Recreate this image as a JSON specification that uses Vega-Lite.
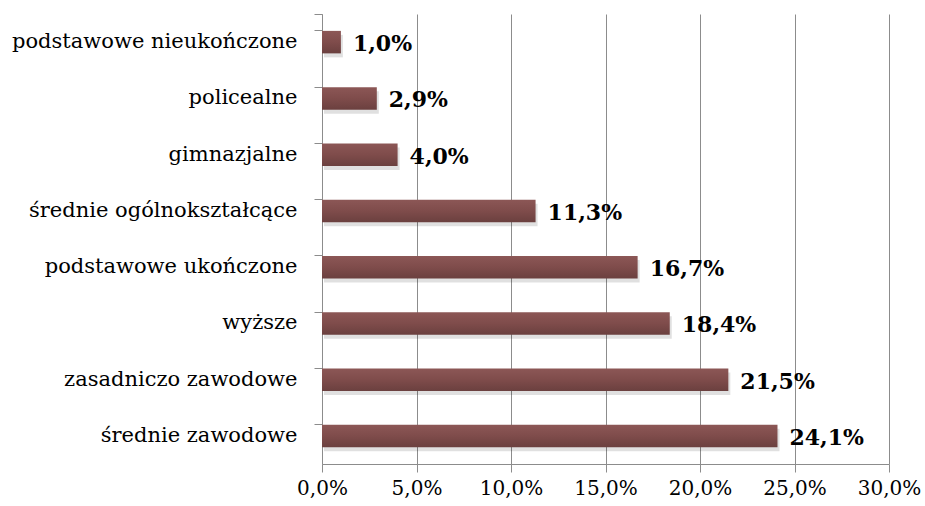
{
  "$schema": "https://vega.github.io/schema/vega-lite/v6.json",
  "width": 567,
  "height": 450,
  "autosize": {"type": "none"},
  "padding": {"left": 322, "top": 14, "right": 36, "bottom": 42},
  "background": "white",
  "data": {"values": [
    {"kategoria": "podstawowe nieukończone", "wartosc": 1.0, "etykieta": "1,0%"},
    {"kategoria": "policealne", "wartosc": 2.9, "etykieta": "2,9%"},
    {"kategoria": "gimnazjalne ", "wartosc": 4.0, "etykieta": "4,0%"},
    {"kategoria": "średnie ogólnokształcące", "wartosc": 11.3, "etykieta": "11,3%"},
    {"kategoria": "podstawowe ukończone", "wartosc": 16.7, "etykieta": "16,7%"},
    {"kategoria": "wyższe", "wartosc": 18.4, "etykieta": "18,4%"},
    {"kategoria": "zasadniczo zawodowe ", "wartosc": 21.5, "etykieta": "21,5%"},
    {"kategoria": "średnie zawodowe", "wartosc": 24.1, "etykieta": "24,1%"}
  ]},
  "config": {
    "view": {"stroke": null},
    "font": "DejaVu Serif",
    "axis": {"labelFont": "DejaVu Serif"}
  },
  "encoding": {
    "y": {
      "field": "kategoria", "type": "nominal", "sort": null,
      "scale": {"paddingInner": 0.6, "paddingOuter": 0.3},
      "axis": {
        "title": null, "bandPosition": 0, "tickExtra": true,
        "tickSize": 8, "tickColor": "#8c8c8c", "domainColor": "#8c8c8c",
        "labelFontSize": 21, "labelColor": "black",
        "labelPadding": 17, "grid": false, "labelLimit": 400
      }
    },
    "x": {
      "field": "wartosc", "type": "quantitative",
      "scale": {"domain": [0, 30], "nice": false},
      "axis": {
        "title": null, "values": [0, 5, 10, 15, 20, 25, 30],
        "labelExpr": "replace(format(datum.value, '.1f'), '.', ',') + '%'",
        "tickSize": 8, "tickColor": "#8c8c8c", "domainColor": "#8c8c8c",
        "gridColor": "#8c8c8c", "grid": true,
        "labelFontSize": 20, "labelColor": "black",
        "labelPadding": 6, "labelFlush": false
      }
    }
  },
  "layer": [
    {
      "mark": {"type": "bar", "fill": "#000000", "opacity": 0.12, "xOffset": 2, "yOffset": 4}
    },
    {
      "mark": {
        "type": "bar",
        "fill": {
          "gradient": "linear", "x1": 0, "y1": 0, "x2": 0, "y2": 1,
          "stops": [
            {"offset": 0, "color": "#8c5756"},
            {"offset": 0.5, "color": "#7f4c4b"},
            {"offset": 1, "color": "#6b403f"}
          ]
        }
      }
    },
    {
      "mark": {
        "type": "text", "align": "left", "baseline": "middle", "dx": 12, "dy": 2,
        "fontSize": 22, "fontWeight": "bold", "color": "black"
      },
      "encoding": {"text": {"field": "etykieta"}}
    }
  ]
}
